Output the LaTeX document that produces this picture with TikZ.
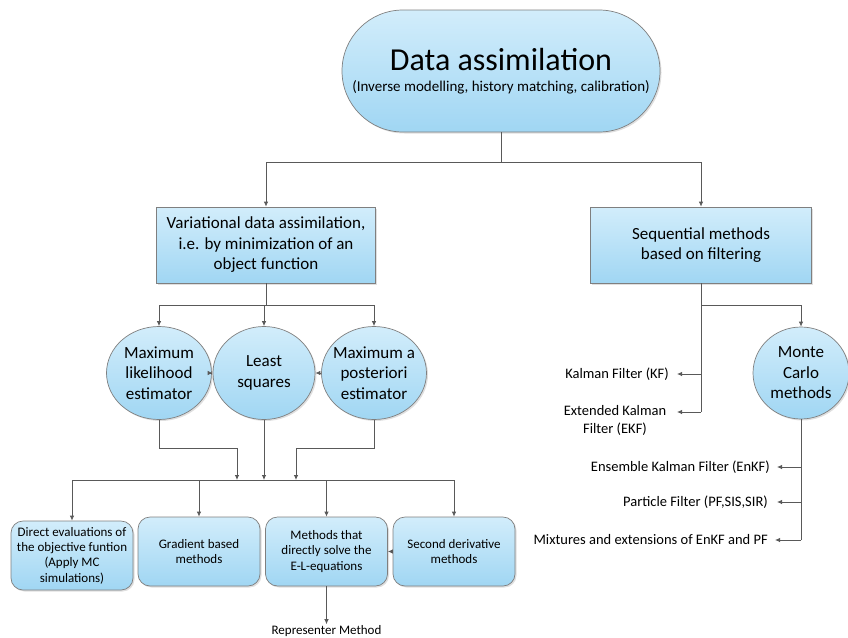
\documentclass[tikz,border=0pt]{standalone}
\usepackage{fontspec}
\setmainfont{Carlito}
\usetikzlibrary{arrows.meta,shadows,shapes.geometric}

\definecolor{linea}{HTML}{595959}
\definecolor{borde}{HTML}{7F7F7F}
\definecolor{azularriba}{HTML}{D2EDFB}
\definecolor{azulabajo}{HTML}{A0D6F3}

\tikzset{
  caja/.style={draw=borde, line width=0.7pt, top color=azularriba, bottom color=azulabajo,
    drop shadow={opacity=0.25, shadow xshift=1.5pt, shadow yshift=-1.5pt},
    align=center, font=\fontsize{17}{20.5}\selectfont},
  bola/.style={caja, ellipse, minimum width=105pt, minimum height=93pt, inner xsep=-10pt, inner ysep=0pt},
  hoja/.style={caja, rounded corners=12pt, minimum width=122pt, minimum height=69pt,
    inner sep=0pt, font=\fontsize{13}{15.3}\selectfont},
  etiqueta/.style={font=\fontsize{14.5}{18}\selectfont, align=center, inner xsep=7pt},
  rama/.style={draw=linea, line width=0.8pt},
  flecha/.style={rama, -{Latex[length=5pt,width=4.5pt]}}
}

\begin{document}
\begin{tikzpicture}[x=1pt, y=-1pt]
  \useasboundingbox (0,0) rectangle (848,637);

  % cabecera
  \node[caja, rounded corners=61pt, minimum width=318pt, minimum height=122pt, inner sep=0pt] (da) at (501,71)
    {{\fontsize{32}{36}\selectfont Data assimilation}\\[1pt]{\fontsize{15}{18}\selectfont (Inverse modelling, history matching, calibration)}};

  % dos ramas
  \node[caja, minimum width=219pt, minimum height=76pt] (var) at (266,245)
    {Variational data assimilation,\\i.e. by minimization of an\\object function};
  \node[caja, minimum width=221pt, minimum height=76pt] (seq) at (701,245)
    {Sequential methods\\based on filtering};

  \coordinate (c1) at (501,162);
  \draw[rama] (da.south) -- (c1);
  \draw[flecha] (c1) -| (var.north);
  \draw[flecha] (c1) -| (seq.north);

  % estimadores
  \node[bola] (ml) at (159,373) {Maximum\\likelihood\\estimator};
  \node[bola, minimum width=102pt] (ls) at (264,373) {Least\\squares};
  \node[bola] (map) at (374,373) {Maximum a\\posteriori\\estimator};

  \coordinate (v1) at (266,305);
  \draw[rama] (var.south) -- (v1);
  \draw[rama] (ml.north |- v1) -- (map.north |- v1);
  \foreach \c in {ml,ls,map}
    \draw[flecha] (\c.north |- v1) -- (\c.north);
  \draw[flecha] (ml.east) -- (ls.west);
  \draw[flecha] (map.west) -- (ls.east);

  % metodos de abajo
  \node[hoja] (d1) at (72,555.5) {Direct evaluations of\\the objective funtion\\(Apply MC\\simulations)};
  \node[hoja] (d2) at (199,551.5) {Gradient based\\methods};
  \node[hoja] (d3) at (326.5,551.5) {Methods that\\directly solve the\\E-L-equations};
  \node[hoja] (d4) at (454,551.5) {Second derivative\\methods};
  \node[etiqueta, font=\fontsize{13}{15}\selectfont, inner sep=1pt] (rep) at (326.5,631) {Representer Method};

  \coordinate (bus) at (264,480);
  \coordinate (j1) at (237,480);
  \coordinate (j3) at (296,480);
  \draw[flecha] (ml.south) |- (j1 |- 0,448) -- (j1);
  \draw[flecha] (ls.south) -- (ls.south |- bus);
  \draw[flecha] (map.south) |- (j3 |- 0,448) -- (j3);
  \draw[rama] (d1.north |- bus) -- (d4.north |- bus);
  \foreach \d in {d1,d2,d3,d4}
    \draw[flecha] (\d.north |- bus) -- (\d.north);
  \draw[flecha] (d4.west) -- (d3.east);
  \draw[flecha] (d3.south) -- (rep.north);

  % filtros
  \node[bola, minimum width=96pt, minimum height=92pt] (mc) at (801,373) {Monte\\Carlo\\methods};
  \node[etiqueta, anchor=east, inner xsep=8pt] (kf) at (677,374) {Kalman Filter (KF)};
  \node[etiqueta] (ekf) at (615,420) {Extended Kalman\\Filter (EKF)};
  \node[etiqueta, anchor=east] (enkf) at (777,467) {Ensemble Kalman Filter (EnKF)};
  \node[etiqueta, anchor=east, inner xsep=9pt] (pf) at (777,502) {Particle Filter (PF,SIS,SIR)};
  \node[etiqueta, anchor=east] (mix) at (775,540) {Mixtures and extensions of EnKF and PF};

  \coordinate (s1) at (701,305);
  \coordinate (s2) at (701,412);
  \draw[rama] (seq.south) -- (s2);
  \draw[flecha] (s1) -| (mc.north);
  \draw[flecha] (seq.south |- kf.east) -- (kf.east);
  \draw[flecha] (s2) -- (s2 -| kf.east);
  \draw[rama] (mc.south) -- (mc.south |- mix.east);
  \foreach \e in {enkf,pf,mix}
    \draw[flecha] (mc.south |- \e.east) -- (\e.east);
\end{tikzpicture}
\end{document}
